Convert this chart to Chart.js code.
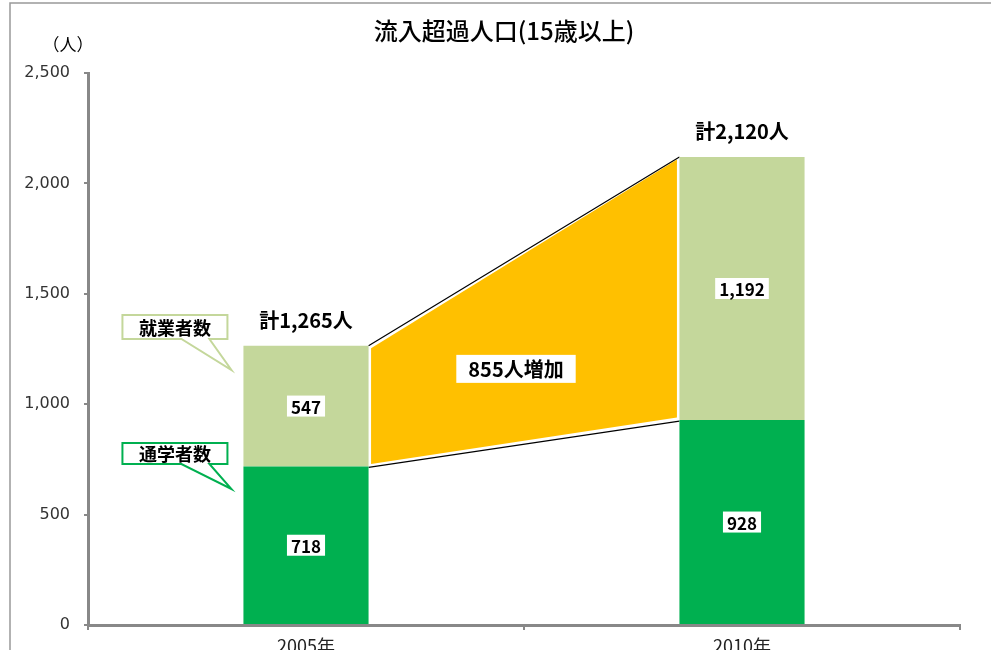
<!DOCTYPE html>
<html>
<head>
<meta charset="utf-8">
<script src="https://cdn.jsdelivr.net/npm/chart.js@4"></script>
<style>
  html, body { margin: 0; padding: 0; background: #fff; }
  #wrap { width: 991px; height: 650px; }
</style>
</head>
<body>
<div id="wrap"><canvas id="inflowChart"></canvas></div>
<script>
const categories = ["2005年", "2010年"];
const students = [718, 928];   // 通学者数
const workers = [547, 1192];   // 就業者数
const yMax = 2500;
const yStep = 500;

const lightGreen = "#c4d79b";
const green = "#00b050";
const orange = "#ffc000";
const jp = '"Noto Sans CJK JP", sans-serif';

const totals = students.map((v, i) => v + workers[i]);

function fmt(n) {
  return n.toLocaleString("en-US");
}

function labelBox(ctx, text, cx, cy, font, padX, h) {
  ctx.font = font;
  const w = ctx.measureText(text).width + padX * 2;
  ctx.fillStyle = "#fff";
  ctx.fillRect(cx - w / 2, cy - h / 2, w, h);
  ctx.fillStyle = "#000";
  ctx.textAlign = "center";
  ctx.textBaseline = "middle";
  ctx.fillText(text, cx, cy + 1);
}

function callout(ctx, text, color, x0, y0, x1, y1, tailL, tailR, tipX, tipY) {
  ctx.beginPath();
  ctx.moveTo(x0, y0);
  ctx.lineTo(x1, y0);
  ctx.lineTo(x1, y1);
  ctx.lineTo(tailR, y1);
  ctx.lineTo(tipX, tipY);
  ctx.lineTo(tailL, y1);
  ctx.lineTo(x0, y1);
  ctx.closePath();
  ctx.fillStyle = "#fff";
  ctx.fill();
  ctx.strokeStyle = color;
  ctx.lineWidth = 2;
  ctx.stroke();
  ctx.font = "bold 18px " + jp;
  ctx.fillStyle = "#000";
  ctx.textAlign = "center";
  ctx.textBaseline = "middle";
  ctx.fillText(text, (x0 + x1) / 2, (y0 + y1) / 2 + 1);
}

const overlay = {
  id: "overlay",
  beforeDraw(chart) {
    const ctx = chart.ctx;
    ctx.save();
    ctx.strokeStyle = "#999";
    ctx.lineWidth = 1.5;
    ctx.beginPath();
    ctx.moveTo(10, 650);
    ctx.lineTo(10, 3);
    ctx.lineTo(991, 3);
    ctx.stroke();

    ctx.fillStyle = "#000";
    ctx.textAlign = "center";
    ctx.textBaseline = "middle";
    ctx.font = "500 24px " + jp;
    ctx.fillText("流入超過人口(15歳以上)", 504, 31);
    ctx.font = "17px " + jp;
    ctx.fillText("（人）", 68, 45);
    ctx.restore();
  },
  beforeDatasetsDraw(chart) {
    const ctx = chart.ctx;
    const y = chart.scales.y;
    const a = chart.getDatasetMeta(1).data[0];
    const b = chart.getDatasetMeta(1).data[1];
    const xl = a.x + a.width / 2;
    const xr = b.x - b.width / 2;
    const t0 = y.getPixelForValue(totals[0]);
    const t1 = y.getPixelForValue(totals[1]);
    const s0 = y.getPixelForValue(students[0]);
    const s1 = y.getPixelForValue(students[1]);
    ctx.save();
    ctx.fillStyle = orange;
    ctx.beginPath();
    ctx.moveTo(xl + 2.5, t0 + 2.5);
    ctx.lineTo(xr - 2.5, t1 + 2.5);
    ctx.lineTo(xr - 2.5, s1 - 2.5);
    ctx.lineTo(xl + 2.5, s0 - 2.5);
    ctx.closePath();
    ctx.fill();
    ctx.strokeStyle = "#000";
    ctx.lineWidth = 1.2;
    ctx.beginPath();
    ctx.moveTo(xl, t0);
    ctx.lineTo(xr, t1);
    ctx.moveTo(xl, s0 + 1);
    ctx.lineTo(xr, s1 + 1);
    ctx.stroke();
    ctx.restore();
  },
  afterDatasetsDraw(chart) {
    const ctx = chart.ctx;
    const y = chart.scales.y;
    ctx.save();
    [0, 1].forEach((d) => {
      chart.getDatasetMeta(d).data.forEach((bar, i) => {
        const v = chart.data.datasets[d].data[i];
        labelBox(ctx, fmt(v), bar.x, (bar.y + bar.base) / 2, "bold 17px " + jp, 4, 21);
      });
    });

    const top = chart.getDatasetMeta(1).data;
    top.forEach((bar, i) => {
      ctx.font = "bold 20px " + jp;
      ctx.fillStyle = "#000";
      ctx.textAlign = "center";
      ctx.textBaseline = "middle";
      ctx.fillText("計" + fmt(totals[i]) + "人", bar.x, y.getPixelForValue(totals[i]) - 25);
    });

    const xl = top[0].x + top[0].width / 2;
    const xr = top[1].x - top[1].width / 2;
    labelBox(ctx, (totals[1] - totals[0]) + "人増加", (xl + xr) / 2 - 8,
      y.getPixelForValue(1160), "bold 20px " + jp, 12, 28);

    const left = top[0].x - top[0].width / 2;
    const wy = y.getPixelForValue(1155);
    callout(ctx, "就業者数", lightGreen, left - 121, wy - 55, left - 16, wy - 31,
      left - 62, left - 34, left - 12, wy);
    const sy = y.getPixelForValue(616);
    callout(ctx, "通学者数", green, left - 121, sy - 46, left - 16, sy - 25,
      left - 62, left - 34, left - 12, sy);
    ctx.restore();
  },
};

new Chart(document.getElementById("inflowChart"), {
  type: "bar",
  data: {
    labels: categories,
    datasets: [
      {
        label: "通学者数",
        data: students,
        backgroundColor: green,
        barPercentage: 1,
        categoryPercentage: 0.287,
      },
      {
        label: "就業者数",
        data: workers,
        backgroundColor: lightGreen,
        barPercentage: 1,
        categoryPercentage: 0.287,
      },
    ],
  },
  options: {
    responsive: true,
    maintainAspectRatio: false,
    animation: false,
    layout: {
      padding: { top: 73, right: 31, bottom: 0, left: 0 },
    },
    plugins: {
      legend: { display: false },
      tooltip: { enabled: false },
    },
    scales: {
      x: {
        stacked: true,
        afterFit: (scale) => { scale.height = 25; },
        grid: {
          drawOnChartArea: false,
          color: "#888",
          lineWidth: 2,
          tickLength: 5,
        },
        border: { color: "#888", width: 3 },
        ticks: {
          color: "#222",
          padding: 5,
          font: { family: jp, size: 18 },
        },
      },
      y: {
        stacked: true,
        min: 0,
        max: yMax,
        afterFit: (scale) => { scale.width = 88; },
        grid: {
          drawOnChartArea: false,
          color: "#888",
          lineWidth: 2,
          tickLength: 4,
        },
        border: { color: "#888", width: 3 },
        ticks: {
          stepSize: yStep,
          color: "#333",
          padding: 14,
          font: { family: '"DejaVu Sans"', size: 16 },
          callback: (v) => fmt(v),
        },
      },
    },
  },
  plugins: [overlay],
});
</script>
</body>
</html>
